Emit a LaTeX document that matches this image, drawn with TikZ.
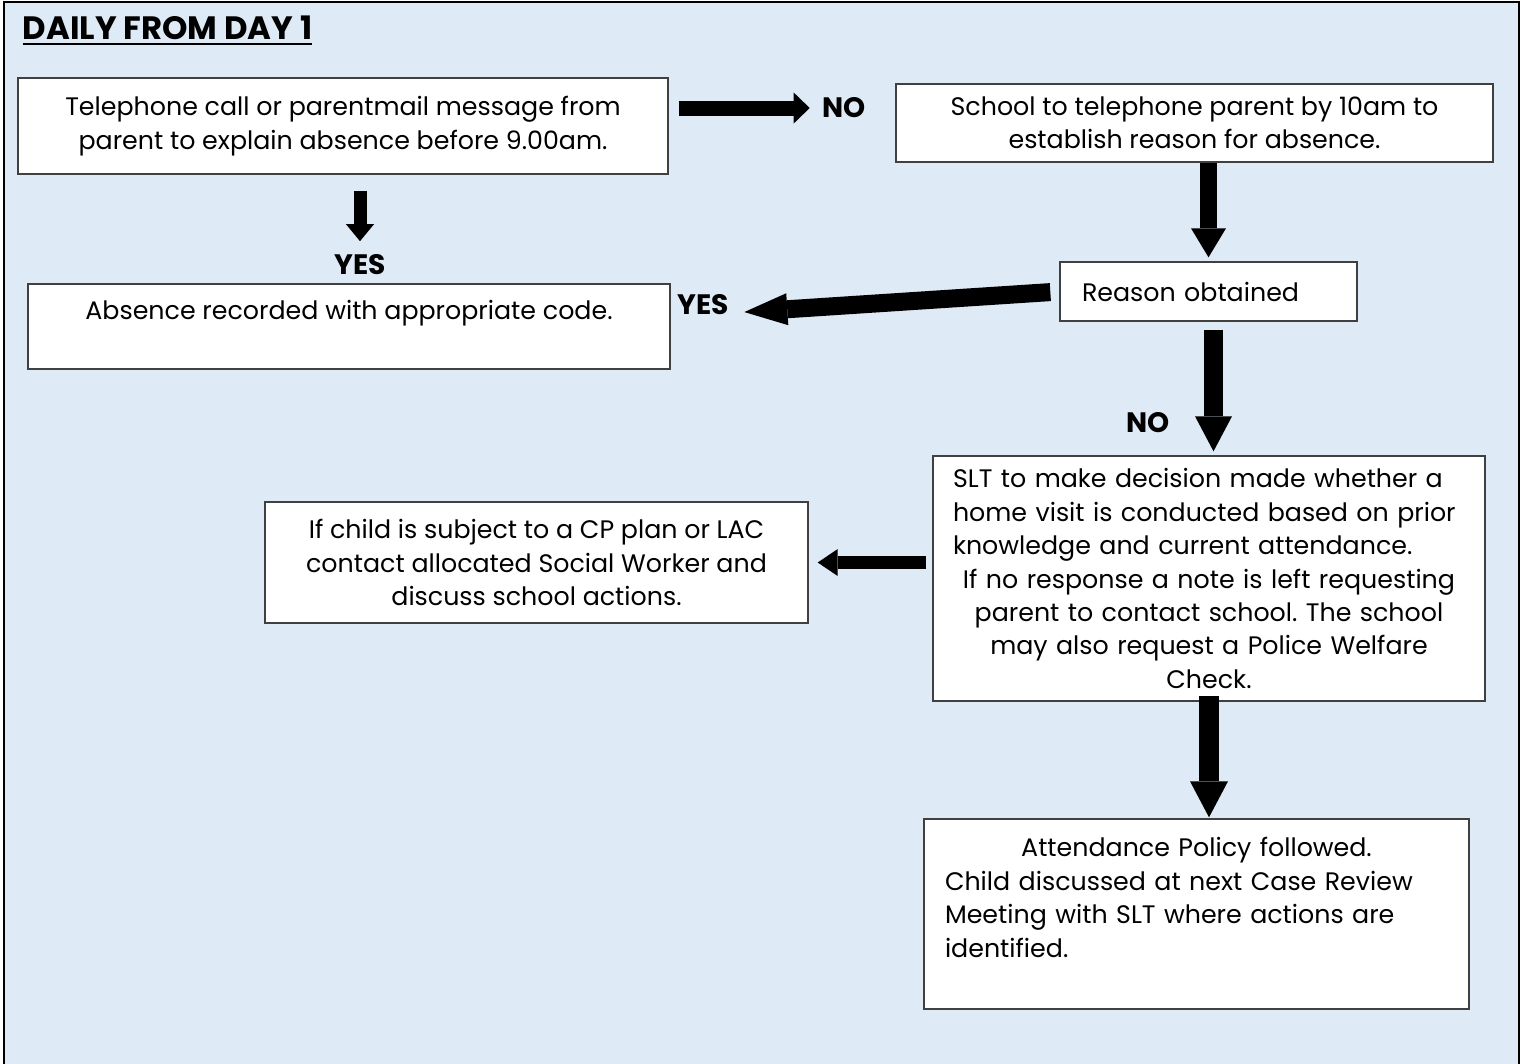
\documentclass[tikz,border=0pt]{standalone}
\usepackage{fontspec}
\setmainfont{Poppins}
\usetikzlibrary{arrows.meta,positioning}
\definecolor{panelblue}{RGB}{222,234,246}
\frenchspacing
\newcommand{\flowfont}{\fontsize{7.2}{9.5}\selectfont}
\newcommand{\answerfont}{\fontsize{8}{9.5}\selectfont\bfseries}
\tikzset{
  stepbox/.style={draw=black!75, fill=white, line width=0.4pt, inner sep=0pt, font=\flowfont},
  answer/.style={inner sep=0pt, font=\answerfont},
  fat/.style n args={3}{line width=#1, line cap=butt, -{Triangle[width=#2, length=#3, line width=0pt]}}
}

\begin{document}
\begin{tikzpicture}[x=0.1mm, y=-0.1mm]
\useasboundingbox (0,0) rectangle (1523,1063);
\filldraw[fill=panelblue, draw=black, line width=0.5pt] (4,2) rectangle (1519,1075);
% heading
\node[anchor=base west, inner sep=0pt, font=\fontsize{9.2}{11}\selectfont\bfseries] (heading) at (22,39) {\underline{DAILY FROM DAY 1}};
% boxes
\node[stepbox, minimum width=65mm, minimum height=9.6mm, align=center] (call) at (343,126)
  {Telephone call or parentmail message from\\parent to explain absence before 9.00am.};
\node[stepbox, minimum width=59.7mm, minimum height=7.8mm, align=center] (ring) at (1194.5,123)
  {School to telephone parent by 10am to\\establish reason for absence.};
\node[stepbox, minimum width=64.2mm, minimum height=8.5mm, align=center] (coded) at (349,326.5)
  {Absence recorded with appropriate code.\\ \mbox{}};
\node[stepbox, minimum width=29.7mm, minimum height=5.9mm, text width=25.3mm, align=left] (reason) at (1208.5,291.5)
  {Reason obtained};
\node[stepbox, minimum width=55.2mm, minimum height=24.5mm, text width=51.2mm] (slt) at (1209,578.5)
  {{\raggedright SLT to make decision made whether a\\home visit is conducted based on prior\\knowledge and current attendance.\par}
   {\centering If no response a note is left requesting\\parent to contact school. The school\\may also request a Police Welfare\\Check.\par}};
\node[stepbox, minimum width=54.3mm, minimum height=12.1mm, align=center] (social) at (536.5,562.5)
  {If child is subject to a CP plan or LAC\\contact allocated Social Worker and\\discuss school actions.};
\node[stepbox, minimum width=54.5mm, minimum height=19mm, text width=50.3mm] (policy) at (1196.5,914)
  {{\centering Attendance Policy followed.\par}
   {\raggedright Child discussed at next Case Review\\Meeting with SLT where actions are\\identified.\\ \mbox{}\par}};
% answers
\node[answer] (no1) at (844,108) {NO};
\node[answer] (yes1) at (360,265) {YES};
\node[answer] (yes2) at (703,305) {YES};
\node[answer] (no2) at (1148,423) {NO};
% arrows
\draw[fat={1.5mm}{3.1mm}{1.6mm}, shorten <=1mm, shorten >=1.2mm] (call.east |- no1) -- (no1.west);
\draw[fat={1.3mm}{2.8mm}{1.7mm}, shorten <=1.6mm, shorten >=1.3mm] (call.south -| yes1) -- (yes1.north);
\draw[fat={1.7mm}{3.5mm}{2.9mm}, shorten >=0.4mm] (ring.south -| reason) -- (reason.north);
\draw[fat={1.8mm}{3.2mm}{4.3mm}, shorten <=0.9mm, shorten >=1.5mm] (reason.west) -- ([yshift=-0.8mm]yes2.east);
\draw[fat={1.9mm}{3.7mm}{3.5mm}, shorten <=0.8mm, shorten >=0.4mm] ([xshift=0.5mm]reason.south) -- ([xshift=0.5mm]reason.south |- slt.north);
\draw[fat={1.3mm}{2.7mm}{2mm}, shorten <=0.6mm, shorten >=0.9mm] (slt.west |- social) -- (social.east);
\draw[fat={2mm}{3.8mm}{3.6mm}, shorten <=-0.6mm, shorten >=0.1mm] (slt.south) -- (slt.south |- policy.north);
\end{tikzpicture}
\end{document}
